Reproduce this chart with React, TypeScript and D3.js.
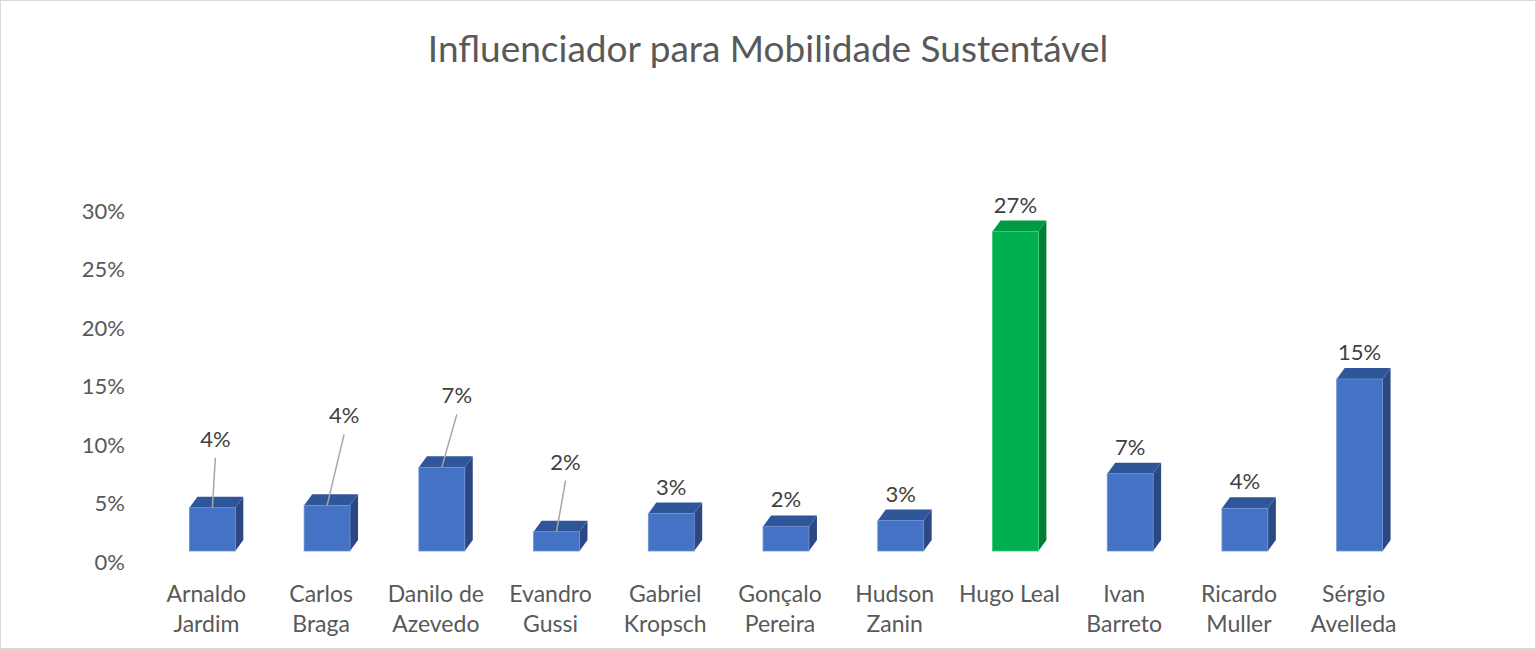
import React from 'react';
import { scaleBand, scaleLinear } from 'd3';

const categories = [
  ['Arnaldo', 'Jardim'],
  ['Carlos', 'Braga'],
  ['Danilo de', 'Azevedo'],
  ['Evandro', 'Gussi'],
  ['Gabriel', 'Kropsch'],
  ['Gonçalo', 'Pereira'],
  ['Hudson', 'Zanin'],
  ['Hugo Leal'],
  ['Ivan', 'Barreto'],
  ['Ricardo', 'Muller'],
  ['Sérgio', 'Avelleda'],
];
const shares = [3.7, 3.9, 7.15, 1.65, 3.2, 2.1, 2.6, 27.3, 6.6, 3.65, 14.7];
const highlight = 'Hugo Leal';
const yTicks = [0, 5, 10, 15, 20, 25, 30];
// manual label offsets (Excel moved these labels up and drew a leader line)
const labelShift = [
  [3, 42],
  [17, 63],
  [15, 45],
  [9, 43],
  [0, 0],
  [0, 0],
  [0, 0],
  [0, 0],
  [0, 0],
  [0, 0],
  [0, 0],
];

const W = 1536;
const H = 649;
const FONT = 'Lato, "Noto Sans", sans-serif';

export default function App() {
  const names = categories.map(c => c.join(' '));
  const x = scaleBand<string>().domain(names).range([155, 1417]).padding(0);
  const y = scaleLinear().domain([0, 30]).range([551, 200]);
  const faceW = x.bandwidth() * 0.4;
  const dx = 8;
  const dy = -11;

  return (
    <svg
      width={W}
      height={H}
      style={{ position: 'absolute', left: 0, top: 0, background: '#fff' }}
      fontFamily={FONT}
    >
      <rect x={0.5} y={0.5} width={W - 1} height={H - 1} fill="#fff" stroke="#d9d9d9" />
      <text x={768} y={62} textAnchor="middle" fontSize={37} fill="#595959">
        Influenciador para Mobilidade Sustentável
      </text>

      {yTicks.map(t => (
        <text
          key={t}
          x={125}
          y={y(t) + 11}
          dy="0.35em"
          textAnchor="end"
          fontSize={22}
          fill="#595959"
        >
          {t}%
        </text>
      ))}

      {names.map((n, i) => {
        const v = shares[i];
        const x0 = (x(n) as number) + (x.bandwidth() - faceW) / 2;
        const x1 = x0 + faceW;
        const yTop = y(v);
        const yBot = y(0);
        const green = n === highlight;
        const front = green ? '#00b050' : '#4472c4';
        const top = green ? '#009a44' : '#30569a';
        const side = green ? '#007d37' : '#2b4884';
        const cx = x0 + faceW / 2;
        const [sx, sy] = labelShift[i];
        const lx = cx + sx;
        const ly = yTop - 19 - sy;
        return (
          <g key={n}>
            <polygon
              points={`${x1},${yTop} ${x1 + dx},${yTop + dy} ${x1 + dx},${yBot + dy} ${x1},${yBot}`}
              fill={side}
            />
            <polygon
              points={`${x0},${yTop} ${x0 + dx},${yTop + dy} ${x1 + dx},${yTop + dy} ${x1},${yTop}`}
              fill={top}
            />
            <rect
              x={x0}
              y={yTop}
              width={faceW}
              height={yBot - yTop}
              fill={front}
              stroke={green ? '#3cc97a' : '#6d8fd6'}
              strokeWidth={0.8}
            />
            {sy > 0 && (
              <line x1={lx} y1={ly + 11} x2={cx} y2={yTop} stroke="#a6a6a6" strokeWidth={1.5} />
            )}
            <text x={lx} y={ly} textAnchor="middle" fontSize={22} fill="#404040">
              {Math.round(v)}%
            </text>
            {categories[i].map((line, k) => (
              <text
                key={k}
                x={cx - 6}
                y={602 + k * 30}
                textAnchor="middle"
                fontSize={23}
                fill="#595959"
              >
                {line}
              </text>
            ))}
          </g>
        );
      })}
    </svg>
  );
}
